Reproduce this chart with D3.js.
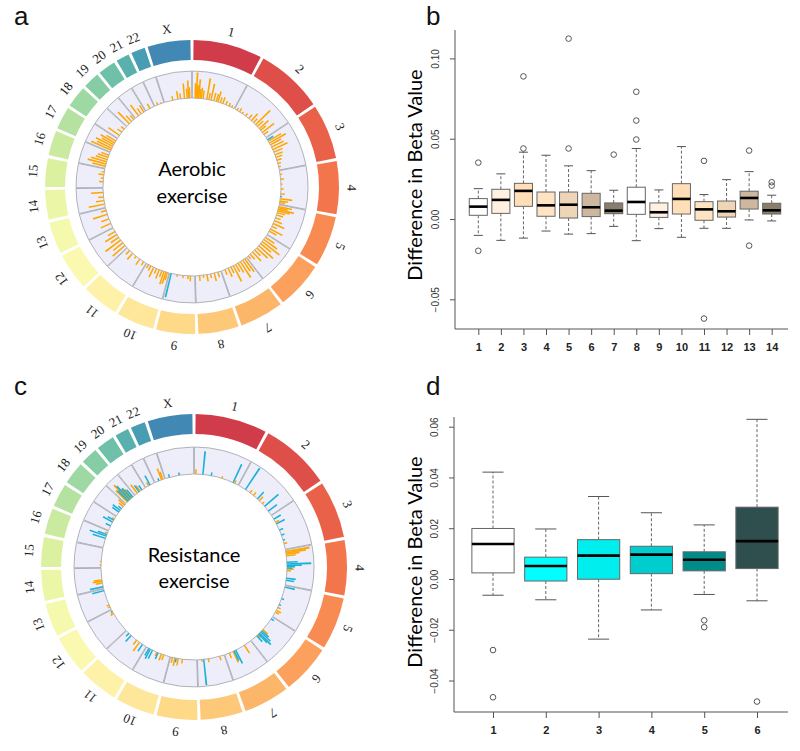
<!DOCTYPE html>
<html>
<head>
<meta charset="utf-8">
<script src="https://cdn.jsdelivr.net/npm/d3@7"></script>
<style>
  body { margin: 0; background: #fff; }
  svg { display: block; }
</style>
</head>
<body>
<svg width="800" height="751"></svg>
<script>
// chromosomes and their lengths (Mb, hg19)
var chroms = ["1","2","3","4","5","6","7","8","9","10","11","12","13","14","15","16","17","18","19","20","21","22","X"];
var chromLen = [249,243,198,191,181,171,159,146,141,136,135,134,115,107,103,90,81,78,59,63,48,51,155];

// circos bars: [chromosome, relative position, relative height]
var aerobicOrange = [
  ["1",.05,.55],["1",.08,.95],["1",.1,.5],["1",.12,.45],["1",.14,.7],["1",.17,.35],["1",.2,.4],["1",.24,.3],["1",.33,.78],["1",.38,.25],["1",.43,.62],["1",.5,.3],["1",.56,.28],["1",.6,.4],["1",.66,.2],["1",.72,.25],["1",.8,.15],["1",.88,.12],["1",.95,.08],
  ["2",.05,.1],["2",.12,.15],["2",.2,.08],["2",.3,.12],["2",.4,.18],["2",.48,.35],["2",.55,.2],["2",.62,.75],["2",.68,.3],["2",.75,.45],["2",.8,.25],["2",.87,.55],["2",.93,.2],
  ["3",.1,.55],["3",.16,.7],["3",.22,.45],["3",.3,.5],["3",.38,.6],["3",.46,.35],["3",.55,.3],["3",.63,.25],["3",.72,.18],["3",.82,.12],["3",.92,.08],
  ["4",.1,.08],["4",.25,.12],["4",.4,.06],["4",.55,.1],["4",.7,.15],["4",.85,.45],["4",.92,.3],["4",.97,.2],
  ["5",.04,.5],["5",.08,.35],["5",.13,.6],["5",.18,.45],["5",.24,.3],["5",.32,.25],["5",.42,.2],["5",.52,.3],["5",.62,.45],["5",.72,.2],["5",.82,.5],["5",.9,.3],
  ["6",.08,.4],["6",.17,.6],["6",.26,.8],["6",.35,.5],["6",.45,.7],["6",.55,.55],["6",.65,.3],["6",.75,.45],["6",.86,.25],["6",.95,.15],
  ["7",.05,.6],["7",.14,.5],["7",.24,.7],["7",.34,.4],["7",.44,.3],["7",.54,.65],["7",.64,.25],["7",.75,.35],["7",.88,.2],
  ["8",.1,.2],["8",.25,.3],["8",.4,.15],["8",.55,.25],["8",.7,.1],["8",.85,.2],
  ["9",.15,.2],["9",.25,.12],["9",.45,.1],["9",.7,.08],
  ["10",.05,.3],["10",.12,.45],["10",.2,.5],["10",.3,.25],["10",.42,.35],["10",.55,.2],["10",.68,.4],["10",.82,.2],["10",.93,.15],
  ["11",.1,.15],["11",.3,.25],["11",.5,.1],["11",.7,.3],["11",.88,.2],
  ["12",.1,.6],["12",.25,.45],["12",.4,.7],["12",.55,.35],["12",.7,.5],["12",.85,.3],
  ["13",.2,.4],["13",.45,.3],["13",.7,.55],["13",.9,.2],
  ["14",.15,.6],["14",.35,.3],["14",.55,.2],["14",.8,.45],
  ["15",.3,.15],["15",.5,.1],["15",.7,.2],["15",.85,.1],
  ["16",.1,.5],["16",.25,.7],["16",.4,.6],["16",.55,.45],["16",.7,.4],["16",.85,.3],
  ["17",.1,.8],["17",.25,.6],["17",.4,.7],["17",.55,.5],["17",.7,.6],["17",.85,.4],
  ["18",.2,.5],["18",.5,.2],["18",.8,.15],
  ["19",.3,.6],["19",.6,.3],["19",.9,.2],
  ["20",.3,.5],["20",.6,.25],["20",.9,.3],
  ["21",.5,.2],
  ["22",.3,.1],["22",.7,.05],
  ["X",.3,.15],["X",.5,.3],["X",.6,.2],["X",.75,.55],["X",.85,.35],["X",.9,.65],["X",.95,.4]
];
var aerobicBlue = [["3",.05,.25],["4",.78,.06],["9",.96,.9]];

var resistanceOrange = [
  ["1",.02,.18],["1",.62,.08],["1",.93,.12],
  ["2",.3,.12],["2",.4,.15],["2",.58,.2],["2",.68,.1],
  ["3",.2,.15],["3",.85,.12],
  ["4",.03,.9],["4",.07,.75],["4",.11,.5],["4",.16,.35],["4",.55,.25],["4",.6,.15],
  ["5",.7,.12],["5",.8,.2],["5",.86,.15],
  ["6",.5,.25],["6",.74,.15],
  ["7",.25,.35],["7",.7,.45],["7",.85,.2],
  ["8",.15,.15],["8",.6,.12],["8",.85,.08],
  ["9",.55,.15],["9",.72,.25],["9",.85,.3],["9",.95,.2],
  ["10",.25,.2],["10",.35,.25],["10",.55,.15],
  ["11",.3,.4],["11",.45,.2],
  ["12",.85,.12],["12",.92,.08],
  ["13",.1,.08],["13",.2,.1],
  ["14",.25,.25],["14",.35,.35],["14",.42,.3],
  ["15",.1,.05],["15",.3,.04],
  ["16",.9,.1],
  ["17",.85,.1],
  ["18",.8,.2],["18",.95,.3],
  ["19",.15,.6],["19",.35,.8],["19",.55,.5],["19",.75,.4],
  ["20",.2,.4],["20",.5,.25],
  ["21",.3,.15],
  ["22",.7,.45],["22",.85,.3]
];
var resistanceBlue = [
  ["1",.18,.86],["1",.37,.12],["1",.89,.75],
  ["2",.17,.95],["2",.52,.35],["2",.76,.68],["2",.9,.4],
  ["3",.1,.3],["3",.25,.35],["3",.45,.15],["3",.6,.12],["3",.75,.08],
  ["4",.35,.4],["4",.4,.9],["4",.44,.55],["4",.48,.3],["4",.52,.2],["4",.82,.35],["4",.88,.3],
  ["5",.03,.38],["5",.4,.1],["5",.6,.08],
  ["6",.05,.12],["6",.55,.35],["6",.6,.5],["6",.66,.6],["6",.7,.45],["6",.78,.3],
  ["7",.6,.55],["7",.66,.4],
  ["8",.78,.95],
  ["9",.8,.15],
  ["10",.5,.25],["10",.75,.35],["10",.85,.4],["10",.92,.3],
  ["11",.15,.3],["11",.75,.3],["11",.88,.15],
  ["12",.95,.05],
  ["13",.95,.45],
  ["14",.05,.5],
  ["16",.55,.5],["16",.7,.65],["16",.8,.35],
  ["17",.3,.2],["17",.6,.4],["17",.75,.25],
  ["18",.3,.3],["18",.45,.35],["18",.6,.15],
  ["19",.25,.55],["19",.45,.7],["19",.65,.5],["19",.85,.35],
  ["20",.4,.3],["20",.7,.2],
  ["21",.5,.4],
  ["22",.4,.1],
  ["X",.13,.12],["X",.5,.1]
];

// boxplot stats: [lower whisker, Q1, median, Q3, upper whisker]
var aerobicGroups = ["1","2","3","4","5","6","7","8","9","10","11","12","13","14"];
var aerobicStats = [
  [-0.0102,0.0023,0.0077,0.0127,0.0189],
  [-0.0133,0.0035,0.0119,0.0185,0.0281],
  [-0.0119,0.0079,0.0175,0.0222,0.0416],
  [-0.0075,0.0017,0.0085,0.0168,0.0397],
  [-0.0094,0.0006,0.0089,0.0168,0.0331],
  [-0.0091,0.0015,0.0073,0.0160,0.0301],
  [-0.0046,0.0033,0.0052,0.0100,0.0179],
  [-0.0135,0.0029,0.0106,0.0198,0.0439],
  [-0.0060,0.0010,0.0042,0.0100,0.0181],
  [-0.0114,0.0031,0.0125,0.0220,0.0451],
  [-0.0058,-0.0008,0.0060,0.0108,0.0152],
  [-0.0058,0.0012,0.0048,0.0112,0.0245],
  [-0.0006,0.0062,0.0131,0.0173,0.0295],
  [-0.0012,0.0031,0.0054,0.0098,0.0148]
];
var aerobicOutliers = [[0.0351,-0.0198],[],[0.0888,0.0439],[],[0.1123,0.0439],[],[0.0401],[0.0792,0.0613,0.0495],[],[],[0.0362,-0.062],[],[0.0426,-0.0166],[0.0229,0.0208]];
var aerobicFill = ["#ffffff","#fff0e0","#ffdeb8","#ffe4c4","#eed5b7","#cdb79e","#8b7d6b","#ffffff","#fff0e0","#ffdeb8","#ffe4c4","#eed5b7","#cdb79e","#8b7d6b"];
var aerobicTicks = [-0.05, 0, 0.05, 0.10];

var resistanceGroups = ["1","2","3","4","5","6"];
var resistanceStats = [
  [-0.0064,0.0024,0.0138,0.0199,0.0421],
  [-0.0082,-0.0008,0.0051,0.0086,0.0197],
  [-0.0237,-0.0001,0.0092,0.0155,0.0325],
  [-0.0122,0.0021,0.0096,0.0129,0.0261],
  [-0.0061,0.0032,0.0076,0.0107,0.0213],
  [-0.0086,0.0041,0.0149,0.0283,0.0629]
];
var resistanceOutliers = [[-0.028,-0.0466],[],[],[],[-0.0163,-0.019],[-0.0483]];
var resistanceFill = ["#ffffff","#00ffff","#00eeee","#00cdcd","#008b8b","#2f4f4f"];
var resistanceTicks = [-0.04, -0.02, 0, 0.02, 0.04, 0.06];

var svg = d3.select("svg");
var ORANGE = "#ffa500", BLUE = "#1db1d8";
var deg = Math.PI / 180;

// ---------- circos ----------
function drawCircos(o) {
  var g = svg.append("g").attr("transform", `translate(${o.cx},${o.cy})`);
  var gap = 1.2 * deg;
  var total = d3.sum(chromLen);
  var k = (2 * Math.PI - gap * chroms.length) / total;
  var cum = 0;
  var segs = chroms.map((c, i) => {
    var s = gap / 2 + i * gap + cum * k;
    cum += chromLen[i];
    return { name: c, i: i, start: s, end: s + chromLen[i] * k };
  });
  var pos = {};
  segs.forEach(s => { pos[s.name] = d3.scaleLinear().domain([0, 1]).range([s.start, s.end]); });
  var color = d3.scaleSequential(d3.interpolateSpectral).domain([-2.75, chroms.length + 1.75]);
  var rBar = d3.scaleLinear().domain([0, 1]).range([o.trackIn, o.trackOut]);

  // outer ideogram ring
  var ringArc = d3.arc().innerRadius(o.ringIn).outerRadius(o.ringOut);
  g.selectAll(".ring")
    .data(segs)
    .enter().append("path")
      .attr("d", d => ringArc({ startAngle: d.start, endAngle: d.end }))
      .attr("fill", d => color(d.i));

  g.selectAll(".chrlab")
    .data(segs)
    .enter().append("text")
      .attr("transform", d => {
        var a = (d.start + d.end) / 2;
        return `translate(${o.labelR * Math.sin(a)},${-o.labelR * Math.cos(a)}) rotate(${a / deg})`;
      })
      .attr("text-anchor", "middle")
      .attr("dy", "0.35em")
      .style("font-family", "'Liberation Serif', 'DejaVu Serif', serif")
      .style("font-size", "13px")
      .style("fill", "#222")
      .text(d => d.name);

  // track background
  var trackArc = d3.arc().innerRadius(o.trackIn).outerRadius(o.trackOut);
  var pad = 0.2 * deg;
  g.selectAll(".track")
    .data(segs)
    .enter().append("path")
      .attr("d", d => trackArc({ startAngle: d.start - gap / 2 + pad, endAngle: d.end + gap / 2 - pad }))
      .attr("fill", "#eeeefb")
      .attr("stroke", "#a0a0a8")
      .attr("stroke-width", 0.8);

  // bars
  var w = 0.45 * deg;
  var barArc = d3.arc()
    .innerRadius(o.trackIn)
    .outerRadius(d => rBar(d[2]))
    .startAngle(d => pos[d[0]](d[1]) - w)
    .endAngle(d => pos[d[0]](d[1]) + w);
  [[o.orange, ORANGE], [o.blue, BLUE]].forEach(([data, col]) => {
    g.append("g").selectAll("path")
      .data(data)
      .enter().append("path")
        .attr("d", barArc)
        .attr("fill", col);
  });

  g.selectAll(".title")
    .data(o.title)
    .enter().append("text")
      .attr("x", 0)
      .attr("y", (d, i) => o.titleY[i])
      .attr("text-anchor", "middle")
      .style("font-family", "Lato, 'Open Sans', sans-serif")
      .style("font-size", "20px")
      .style("fill", "#000")
      .text(d => d);
}

drawCircos({ cx: 192, cy: 187, ringIn: 127, ringOut: 147, trackIn: 89, trackOut: 116, labelR: 160,
  orange: aerobicOrange, blue: aerobicBlue, title: ["Aerobic", "exercise"], titleY: [-11, 16] });
drawCircos({ cx: 194, cy: 567, ringIn: 133, ringOut: 153, trackIn: 93, trackOut: 120, labelR: 166,
  orange: resistanceOrange, blue: resistanceBlue, title: ["Resistance", "exercise"], titleY: [-5, 21] });

// ---------- boxplots ----------
function drawBoxes(o) {
  var g = svg.append("g");
  var x = d3.scaleLinear().domain([1, o.groups.length]).range(o.xRange);
  var y = d3.scaleLinear().domain(o.yDomain).range(o.yRange);
  var step = x(2) - x(1);
  var hw = step * 0.4;

  g.append("g")
    .attr("transform", `translate(${o.frame.left},0)`)
    .call(d3.axisLeft(y).tickValues(o.ticks).tickFormat(d3.format(".2f")).tickSize(5).tickSizeOuter(0))
    .call(a => a.select(".domain").remove())
    .call(a => a.selectAll("text")
      .attr("transform", "rotate(-90)")
      .attr("x", 0).attr("y", -16).attr("dy", 0)
      .attr("text-anchor", "middle")
      .style("font-size", "10px").style("fill", "#333"));

  g.append("g")
    .attr("transform", `translate(0,${o.frame.bottom})`)
    .call(d3.axisBottom(x).tickValues(d3.range(1, o.groups.length + 1)).tickFormat((d, i) => o.groups[i]).tickSize(6).tickSizeOuter(0))
    .call(a => a.select(".domain").remove())
    .call(a => a.selectAll("text")
      .attr("y", 14)
      .style("font-size", "11px").style("font-weight", "600").style("fill", "#222"));

  g.selectAll(".tick line").attr("stroke", "#555");
  g.selectAll(".tick text").style("font-family", "'Liberation Sans', Arial, sans-serif");

  // L-shaped frame
  g.append("path")
    .attr("d", `M${o.frame.left},${o.frame.top}V${o.frame.bottom}H${o.frame.right}`)
    .attr("fill", "none")
    .attr("stroke", "#555");

  g.append("text")
    .attr("transform", `translate(${o.labelX},${o.labelY}) rotate(-90)`)
    .attr("text-anchor", "middle")
    .attr("dy", "0.35em")
    .style("font-family", "Lato, 'Open Sans', sans-serif")
    .style("font-size", "20px")
    .style("fill", "#000")
    .text("Difference in Beta Value");

  var box = g.selectAll(".box")
    .data(o.stats)
    .enter().append("g");

  box.append("line")
    .attr("x1", (d, i) => x(i + 1)).attr("x2", (d, i) => x(i + 1))
    .attr("y1", d => y(d[3])).attr("y2", d => y(d[4]))
    .attr("stroke", "#666").attr("stroke-dasharray", "3,2");
  box.append("line")
    .attr("x1", (d, i) => x(i + 1)).attr("x2", (d, i) => x(i + 1))
    .attr("y1", d => y(d[1])).attr("y2", d => y(d[0]))
    .attr("stroke", "#666").attr("stroke-dasharray", "3,2");
  [0, 4].forEach(j => {
    box.append("line")
      .attr("x1", (d, i) => x(i + 1) - hw / 2).attr("x2", (d, i) => x(i + 1) + hw / 2)
      .attr("y1", d => y(d[j])).attr("y2", d => y(d[j]))
      .attr("stroke", "#555");
  });
  box.append("rect")
    .attr("x", (d, i) => x(i + 1) - hw)
    .attr("width", hw * 2)
    .attr("y", d => y(d[3]))
    .attr("height", d => y(d[1]) - y(d[3]))
    .attr("fill", (d, i) => o.fill[i])
    .attr("stroke", "#666");
  box.append("line")
    .attr("x1", (d, i) => x(i + 1) - hw).attr("x2", (d, i) => x(i + 1) + hw)
    .attr("y1", d => y(d[2])).attr("y2", d => y(d[2]))
    .attr("stroke", "#000").attr("stroke-width", 2.6);

  var outs = [];
  o.outliers.forEach((vals, i) => vals.forEach(v => outs.push([i + 1, v])));
  g.selectAll(".out")
    .data(outs)
    .enter().append("circle")
      .attr("cx", d => x(d[0]))
      .attr("cy", d => y(d[1]))
      .attr("r", 2.8)
      .attr("fill", "none")
      .attr("stroke", "#555");
}

drawBoxes({ groups: aerobicGroups, stats: aerobicStats, outliers: aerobicOutliers, fill: aerobicFill, ticks: aerobicTicks,
  xRange: [478.3, 771.7], yDomain: [-0.05, 0.10], yRange: [299.3, 58.4],
  frame: { left: 455, right: 788, top: 30, bottom: 329 }, labelX: 415, labelY: 175 });
drawBoxes({ groups: resistanceGroups, stats: resistanceStats, outliers: resistanceOutliers, fill: resistanceFill, ticks: resistanceTicks,
  xRange: [493, 757], yDomain: [-0.04, 0.06], yRange: [680.5, 426.7],
  frame: { left: 454, right: 788, top: 417, bottom: 712 }, labelX: 415, labelY: 562 });

// panel letters
svg.selectAll(".letter")
  .data([["a", 14, 25], ["b", 426, 25], ["c", 14, 395], ["d", 426, 395]])
  .enter().append("text")
    .attr("x", d => d[1]).attr("y", d => d[2])
    .style("font-family", "'Liberation Sans', Arial, sans-serif")
    .style("font-size", "26px")
    .style("fill", "#111")
    .text(d => d[0]);
</script>
</body>
</html>
